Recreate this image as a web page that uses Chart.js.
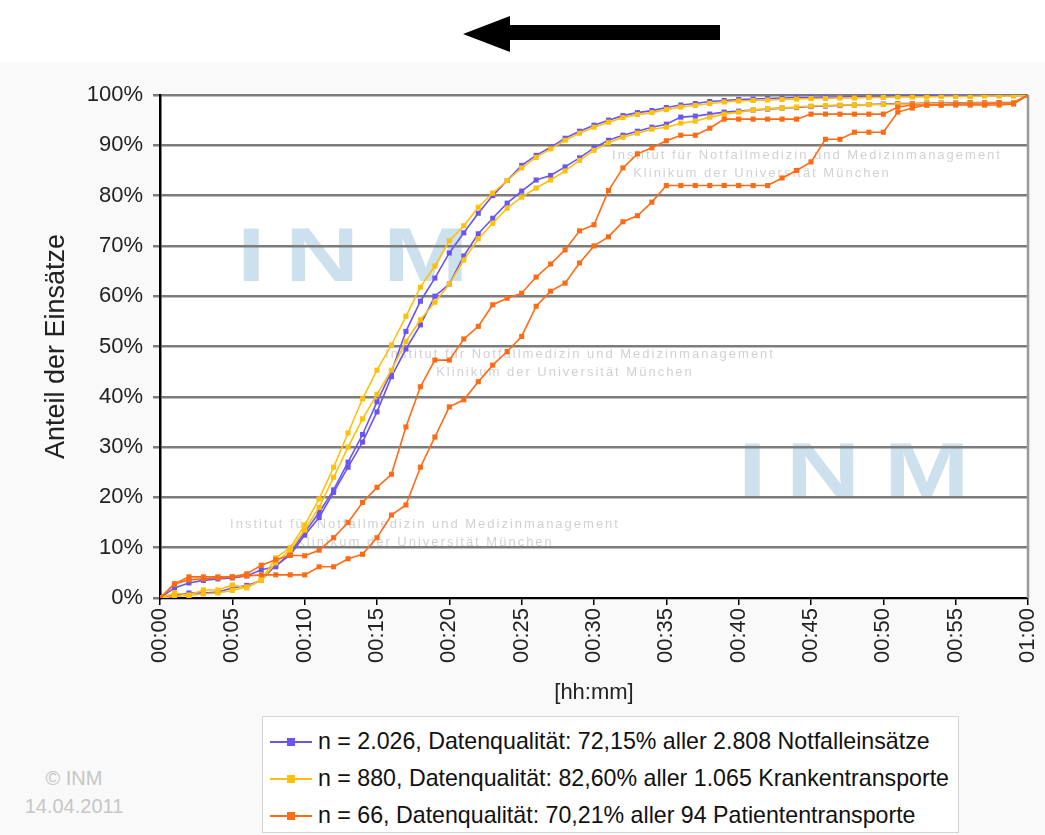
<!DOCTYPE html>
<html>
<head>
<meta charset="utf-8">
<script src="https://cdn.jsdelivr.net/npm/chart.js@4"></script>
<style>
  body { margin: 0; width: 1045px; height: 835px; position: relative; overflow: hidden; background: #fff;
         font-family: "Liberation Sans", Arial, sans-serif; }
  #panel { position: absolute; left: 0; top: 62px; width: 1045px; height: 773px; background: #f9f9f9; }
  #chart { position: absolute; left: 0; top: 62px; }
  #legend { position: absolute; left: 262px; top: 716px; width: 697px; height: 117px; box-sizing: border-box;
            border: 1px solid #d4d4d4; background: #fff; padding-top: 6px; }
  .row { height: 37px; display: flex; align-items: center; font-size: 23.2px; color: #111; white-space: nowrap; }
  .sym { position: relative; width: 42px; height: 8px; margin-left: 7px; margin-right: 6px; }
  .sym .ln { position: absolute; left: 0; right: 0; top: 3px; height: 2px; }
  .sym .pt { position: absolute; left: 17px; top: 0; width: 8px; height: 8px; }
  #copy { position: absolute; left: 14px; top: 764px; width: 120px; text-align: center; color: #c6c6c6;
          font-size: 20px; line-height: 28px; }
</style>
</head>
<body>
<svg width="1045" height="62" style="position:absolute;left:0;top:0">
  <polygon points="463,34 510,16 510,25 720,25 720,40 510,40 510,52" fill="#000"/>
</svg>
<div id="panel"></div>
<canvas id="chart" width="1045" height="650"></canvas>
<div id="legend"></div>
<div id="copy">© INM<br>14.04.2011</div>

<script>
// -------------------------------
// DATEN
// -------------------------------
const minutes = [0,1,2,3,4,5,6,7,8,9,10,11,12,13,14,15,16,17,18,19,20,21,22,23,24,25,26,27,28,29,
                 30,31,32,33,34,35,36,37,38,39,40,41,42,43,44,45,46,47,48,49,50,51,52,53,54,55,56,57,58,59,60];
const xTickLabels = ["00:00","00:05","00:10","00:15","00:20","00:25","00:30","00:35","00:40","00:45","00:50","00:55","01:00"];

const legendNames = [
  "n = 2.026, Datenqualität: 72,15% aller 2.808 Notfalleinsätze",
  "n = 880, Datenqualität: 82,60% aller 1.065 Krankentransporte",
  "n = 66, Datenqualität: 70,21% aller 94 Patiententransporte"
];

// Notfalleinsätze (zwei überlagerte Auswertungen)
const notfallA = [0,2,3,3.5,3.8,4,4.4,5.6,6.2,9,13,17,21.5,27,32.5,39,45,53,59,63.6,
                  68.6,72.6,76.5,80,83,86,88,89.6,91.4,92.8,94,95,95.9,96.5,96.9,97.5,98,98.3,98.7,98.9,
                  99.1,99.2,99.3,99.4,99.5,99.5,99.6,99.6,99.7,99.7,99.8,99.8,99.8,99.9,99.9,99.9,99.9,99.9,100,100,100];
const notfallB = [0,0.5,1,1,1.2,2,2.5,3.5,6.5,8.5,12.5,16,21,26,31,37,44,49.5,54.3,60,
                  62.4,68,72.4,75.5,78.5,80.9,83.1,84,85.7,87.5,89.5,91,92,92.8,93.6,94.2,95.6,95.8,96.2,96.6,
                  96.8,97,97.2,97.4,97.5,97.7,97.8,97.9,98,98.1,98.2,98.3,98.3,98.4,98.4,98.4,98.5,98.5,98.5,98.5,100];

// Krankentransporte
const krankenA = [0,1,0.6,1.6,1.6,2.6,2,3.6,8,10,14.5,19.7,26,32.8,39.6,45.3,50.3,56,61.8,66,
                  71,74,77.7,80.5,83,85.5,87.6,89.3,91,92.4,93.6,94.6,95.5,96.1,96.5,97.1,97.6,97.9,98.3,98.6,
                  98.8,98.9,99,99.1,99.2,99.3,99.3,99.4,99.4,99.5,99.5,99.6,99.6,99.6,99.7,99.7,99.7,99.8,99.8,99.8,100];
const krankenB = [0,0.3,0.5,0.8,1,1.5,2.2,3.5,7,9.5,13.5,18,24,30,35.6,40.5,45.3,51,55.3,58.8,
                  62.4,67.2,71.4,74.5,77.5,79.7,81.5,83.1,84.9,87,89,90.5,91.6,92.4,93.2,93.6,94.4,94.8,95.6,96.2,
                  96.6,97,97.3,97.4,97.6,97.8,97.9,98,98,98.1,98.1,98.2,98.2,98.3,98.3,98.3,98.4,98.4,98.4,98.5,100];

// Patiententransporte
const patientA = [0,2.8,4.2,4.2,4.2,4.2,4.8,6.5,7.6,8.5,8.4,9.5,12,15,19,22,24.6,34,42,47.3,
                  47.3,51.5,54,58.3,59.6,60.6,63.8,66.4,69.2,73,74.2,81,85.5,88.3,89.5,90.9,92,92,93.4,95.2,
                  95.2,95.2,95.2,95.2,95.2,96.2,96.2,96.2,96.2,96.2,96.2,97.6,98,98,98,98.2,98.2,98.2,98.4,98.4,100];
const patientB = [0,2.8,3.6,3.8,4,4.2,4.4,4.6,4.6,4.6,4.6,6.2,6.2,7.8,8.7,12,16.5,18.5,26,32,
                  38,39.4,43,46.3,49,52,58,61,62.6,66.6,70,71.8,74.8,76,78.7,82,82,82,82,82,
                  82,82,82,83.5,85,86.7,91.2,91.2,92.6,92.6,92.6,96.6,97.4,98,98,98,98,98,98,98.2,100];

const colPurple = "#6a55f0";
const colYellow = "#ffbf0a";
const colOrange = "#ff6a14";

const fontFam = "'Liberation Sans', Arial";

// -------------------------------
// DATASETS
// -------------------------------
function serie(werte, farbe) {
  return {
    data: minutes.map((m, i) => ({ x: m, y: werte[i] })),
    borderColor: farbe,
    backgroundColor: farbe,
    borderWidth: 1.6,
    pointStyle: "rect",
    pointRadius: 3.6,
    pointBorderWidth: 0,
    tension: 0
  };
}

const datasets = [
  serie(patientA, colOrange),
  serie(patientB, colOrange),
  serie(krankenA, colYellow),
  serie(krankenB, colYellow),
  serie(notfallA, colPurple),
  serie(notfallB, colPurple)
];

// -------------------------------
// HINTERGRUND / WASSERZEICHEN
// -------------------------------
const hintergrund = {
  id: "hintergrund",
  beforeDraw(chart) {
    const { ctx, chartArea: a } = chart;
    ctx.save();
    ctx.fillStyle = "#fff";
    ctx.fillRect(a.left, a.top, a.right - a.left, a.bottom - a.top);

    // INM Logos (breit gezogen)
    ctx.fillStyle = "rgba(195,218,234,0.85)";
    ctx.font = "bold 76px " + fontFam;
    [[237, 219], [738, 434]].forEach(([x, y]) => {
      ctx.save();
      ctx.translate(x, y);
      ctx.scale(1.35, 1);
      ctx.fillText("I", 0, 0);
      ctx.fillText("N", 48 / 1.35, 0);
      ctx.fillText("M", 146 / 1.35, 0);
      ctx.restore();
    });

    // Institutstexte
    ctx.fillStyle = "rgba(150,150,150,0.45)";
    ctx.font = "13px " + fontFam;
    ctx.letterSpacing = "2px";
    ctx.textAlign = "center";
    [[807, 97, -45], [580, 296, -15], [425, 466, 0]].forEach(([x, y, dx]) => {
      ctx.fillText("Institut für Notfallmedizin und Medizinmanagement", x, y);
      ctx.fillText("Klinikum der Universität München", x + dx, y + 18);
    });
    ctx.restore();
  },
  beforeDatasetsDraw(chart) {
    const { ctx, chartArea: a } = chart;
    ctx.save();
    ctx.strokeStyle = "#9a9a9a";
    ctx.lineWidth = 2.5;
    ctx.beginPath();
    ctx.moveTo(a.right, a.top);
    ctx.lineTo(a.right, a.bottom);
    ctx.stroke();
    ctx.restore();
  }
};

// -------------------------------
// CHART
// -------------------------------
new Chart(document.getElementById("chart"), {
  type: "line",
  data: { datasets },
  options: {
    responsive: false,
    animation: false,
    layout: { padding: { top: 33, right: 17, left: 0, bottom: 0 } },
    plugins: { legend: { display: false }, tooltip: { enabled: false } },
    scales: {
      x: {
        type: "linear",
        min: 0,
        max: 60,
        afterFit(s) { s.height = 114; s.paddingLeft = 0; s.paddingRight = 0; },
        ticks: {
          stepSize: 5,
          autoSkip: false,
          maxRotation: 90,
          minRotation: 90,
          padding: 3,
          color: "#222",
          font: { size: 22, family: fontFam },
          callback: v => xTickLabels[v / 5]
        },
        grid: { drawOnChartArea: false, tickLength: 7, color: "#000", lineWidth: 1.5 },
        border: { color: "#000", width: 2 },
        title: {
          display: true,
          text: "[hh:mm]",
          color: "#222",
          font: { size: 22, family: fontFam },
          padding: { top: 0, bottom: 6 }
        }
      },
      y: {
        min: 0,
        max: 100,
        afterFit(s) { s.width = 160; s.paddingTop = 0; s.paddingBottom = 0; },
        ticks: {
          stepSize: 10,
          padding: 10,
          color: "#222",
          font: { size: 22, family: fontFam },
          callback: v => v + "%"
        },
        grid: { color: "#7c7c7c", lineWidth: 2.5, tickLength: 7 },
        border: { color: "#000", width: 2.5 },
        title: {
          display: true,
          text: "Anteil der Einsätze",
          color: "#222",
          font: { size: 27, family: fontFam },
          padding: { top: 40, bottom: 0 }
        }
      }
    }
  },
  plugins: [hintergrund]
});

// -------------------------------
// LEGENDE
// -------------------------------
const legende = document.getElementById("legend");
[colPurple, colYellow, colOrange].forEach((farbe, i) => {
  const row = document.createElement("div");
  row.className = "row";
  row.innerHTML = `
    <span class="sym"><span class="ln" style="background:${farbe}"></span><span class="pt" style="background:${farbe}"></span></span>
    <span>${legendNames[i]}</span>`;
  legende.appendChild(row);
});
</script>
</body>
</html>
